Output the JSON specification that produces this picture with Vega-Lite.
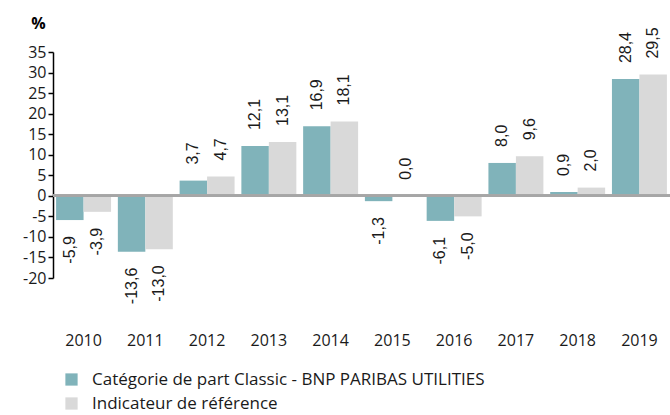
{
  "$schema": "https://vega.github.io/schema/vega-lite/v6.json",
  "width": 617,
  "height": 226,
  "autosize": {"type": "none"},
  "padding": {"left": 53, "top": 52, "right": 0, "bottom": 137},
  "background": "white",
  "config": {
    "view": {"stroke": null},
    "locale": {"number": {"decimal": ",", "thousands": " ", "grouping": [3], "currency": ["", " €"], "minus": "-"}},
    "axis": {"labelFont": "Open Sans", "labelFontSize": 16, "labelColor": "#1a1a1a", "grid": false},
    "legend": {"labelFont": "Open Sans", "labelFontSize": 17, "labelColor": "#1a1a1a", "labelLimit": 0}
  },
  "data": {
    "values": [
      {"year": "2010", "serie": "Catégorie de part Classic - BNP PARIBAS UTILITIES", "value": -5.9},
      {"year": "2010", "serie": "Indicateur de référence", "value": -3.9},
      {"year": "2011", "serie": "Catégorie de part Classic - BNP PARIBAS UTILITIES", "value": -13.6},
      {"year": "2011", "serie": "Indicateur de référence", "value": -13.0},
      {"year": "2012", "serie": "Catégorie de part Classic - BNP PARIBAS UTILITIES", "value": 3.7},
      {"year": "2012", "serie": "Indicateur de référence", "value": 4.7},
      {"year": "2013", "serie": "Catégorie de part Classic - BNP PARIBAS UTILITIES", "value": 12.1},
      {"year": "2013", "serie": "Indicateur de référence", "value": 13.1},
      {"year": "2014", "serie": "Catégorie de part Classic - BNP PARIBAS UTILITIES", "value": 16.9},
      {"year": "2014", "serie": "Indicateur de référence", "value": 18.1},
      {"year": "2015", "serie": "Catégorie de part Classic - BNP PARIBAS UTILITIES", "value": -1.3},
      {"year": "2015", "serie": "Indicateur de référence", "value": 0.0},
      {"year": "2016", "serie": "Catégorie de part Classic - BNP PARIBAS UTILITIES", "value": -6.1},
      {"year": "2016", "serie": "Indicateur de référence", "value": -5.0},
      {"year": "2017", "serie": "Catégorie de part Classic - BNP PARIBAS UTILITIES", "value": 8.0},
      {"year": "2017", "serie": "Indicateur de référence", "value": 9.6},
      {"year": "2018", "serie": "Catégorie de part Classic - BNP PARIBAS UTILITIES", "value": 0.9},
      {"year": "2018", "serie": "Indicateur de référence", "value": 2.0},
      {"year": "2019", "serie": "Catégorie de part Classic - BNP PARIBAS UTILITIES", "value": 28.4},
      {"year": "2019", "serie": "Indicateur de référence", "value": 29.5}
    ]
  },
  "encoding": {
    "x": {
      "field": "year", "type": "nominal",
      "scale": {"paddingInner": 0.11, "paddingOuter": 0.05},
      "axis": {"title": null, "labelAngle": 0, "domain": false, "ticks": false, "labelPadding": 54, "labelBaseline": "top"}
    },
    "xOffset": {
      "field": "serie", "type": "nominal",
      "sort": ["Catégorie de part Classic - BNP PARIBAS UTILITIES", "Indicateur de référence"],
      "scale": {"paddingInner": 0, "paddingOuter": 0}
    },
    "y": {
      "field": "value", "type": "quantitative",
      "scale": {"domain": [-20, 35], "nice": false, "zero": false},
      "axis": {
        "values": [-20, -15, -10, -5, 0, 5, 10, 15, 20, 25, 30, 35],
        "title": "%", "titleAngle": 0, "titleFont": "Open Sans", "titleFontSize": 16, "titleFontWeight": "bold",
        "titleX": -15, "titleY": -21, "titleAlign": "center", "titleBaseline": "bottom", "titleColor": "#000",
        "domainColor": "#000", "domainWidth": 1.5, "tickColor": "#000", "tickWidth": 1.5, "tickSize": 5,
        "labelPadding": 2
      }
    }
  },
  "layer": [
    {
      "mark": {"type": "bar"},
      "encoding": {
        "color": {
          "field": "serie", "type": "nominal",
          "sort": ["Catégorie de part Classic - BNP PARIBAS UTILITIES", "Indicateur de référence"],
          "scale": {"range": ["#80b3ba", "#d9d9d9"]},
          "legend": {
            "title": null, "orient": "none", "legendX": 10, "legendY": 319,
            "symbolType": "square", "symbolSize": 150, "symbolStrokeWidth": 0, "rowPadding": 6, "labelOffset": 12
          }
        }
      }
    },
    {
      "mark": {"type": "rule", "color": "#a6a6a6", "strokeWidth": 2},
      "encoding": {"y": {"datum": 0}, "x": {"value": 0}, "x2": {"value": 617}, "xOffset": null}
    },
    {
      "transform": [{"filter": "datum.value >= 0"}],
      "mark": {"type": "text", "angle": 270, "align": "left", "baseline": "middle", "dx": 16, "font": "Liberation Sans", "fontSize": 16, "color": "#1a1a1a"},
      "encoding": {"text": {"field": "value", "type": "quantitative", "format": ".1f"}}
    },
    {
      "transform": [{"filter": "datum.value < 0"}],
      "mark": {"type": "text", "angle": 270, "align": "right", "baseline": "middle", "dx": -16, "font": "Liberation Sans", "fontSize": 16, "color": "#1a1a1a"},
      "encoding": {"text": {"field": "value", "type": "quantitative", "format": ".1f"}}
    }
  ]
}
